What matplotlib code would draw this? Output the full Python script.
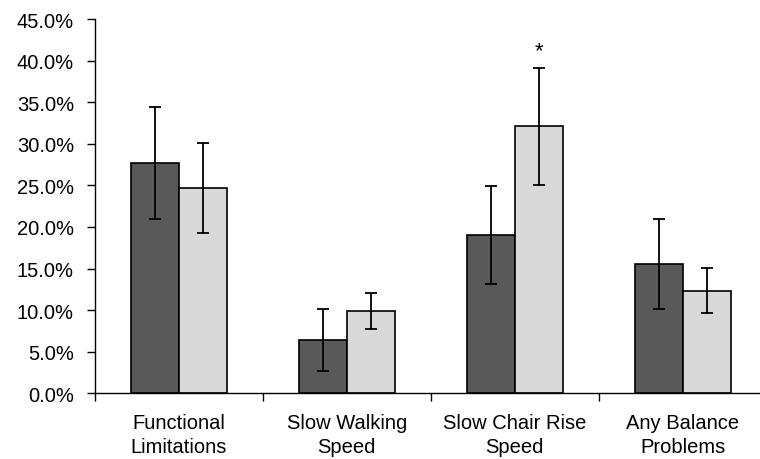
import numpy as np
import matplotlib.pyplot as plt
from matplotlib.ticker import FuncFormatter

plt.rcParams['font.family'] = ['Liberation Sans', 'DejaVu Sans']

# values (percent)
categories = ['Functional\nLimitations', 'Slow Walking\nSpeed',
              'Slow Chair Rise\nSpeed', 'Any Balance\nProblems']
dark_vals = [27.7, 6.4, 19.0, 15.5]
dark_lo = [20.9, 2.7, 13.1, 10.1]
dark_hi = [34.4, 10.1, 24.9, 21.0]
light_vals = [24.7, 9.9, 32.1, 12.3]
light_lo = [19.3, 7.7, 25.1, 9.7]
light_hi = [30.1, 12.1, 39.1, 15.1]

x = np.arange(len(categories))
w = 0.286

fig = plt.figure(figsize=(7.6, 4.6), dpi=100)
ax = fig.add_axes([0.1246, 0.1428, 0.8842, 0.8137])

def draw(pos, vals, lo, hi, color):
    vals = np.array(vals)
    yerr = [vals - np.array(lo), np.array(hi) - vals]
    ax.bar(pos, vals, w, color=color, edgecolor='black', linewidth=1.2, zorder=2)
    ax.errorbar(pos, vals, yerr=yerr, fmt='none', ecolor='black',
                elinewidth=1.3, capsize=4, capthick=1.3, zorder=3)

draw(x - w / 2, dark_vals, dark_lo, dark_hi, '#595959')
draw(x + w / 2, light_vals, light_lo, light_hi, '#d9d9d9')

# significance marker
ax.text(x[2] + w / 2, light_hi[2] + 0.8, '*', ha='center', va='bottom', fontsize=16)

ax.set_xlim(-0.5, 3.5)
ax.set_ylim(0, 45)
ax.set_yticks(np.arange(0, 46, 5))
ax.yaxis.set_major_formatter(FuncFormatter(lambda v, p: '%.1f%%' % v))

ax.set_xticks(x)
ax.set_xticklabels(categories, linespacing=1.35)
ax.set_xticks(np.arange(-0.5, 3.6, 1), minor=True)
ax.tick_params(axis='x', which='major', length=0, pad=14, labelsize=14.5)
ax.tick_params(axis='x', which='minor', length=6, width=1, direction='out')
ax.tick_params(axis='y', length=6, width=1, direction='out', labelsize=14.5, pad=9)

for s in ['top', 'right']:
    ax.spines[s].set_visible(False)
for s in ['left', 'bottom']:
    ax.spines[s].set_linewidth(1.0)

fig.savefig('out.png', dpi=100)
